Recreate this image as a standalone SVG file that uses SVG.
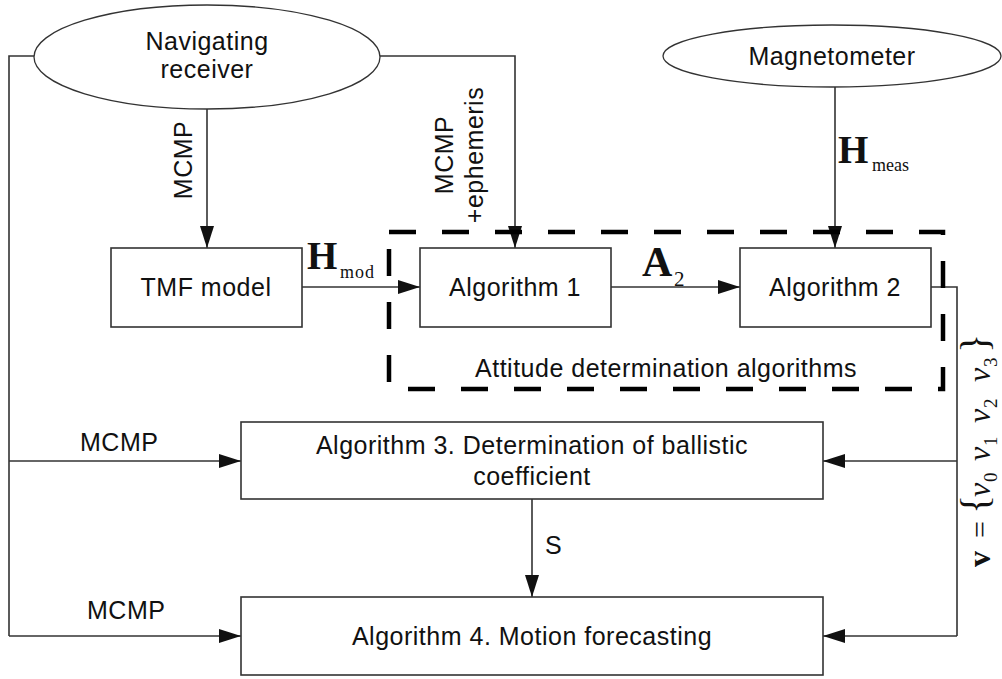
<svg xmlns="http://www.w3.org/2000/svg" width="1002" height="679" viewBox="0 0 1002 679">
  <defs>
    <marker id="arrow" markerUnits="userSpaceOnUse" markerWidth="23" markerHeight="15" refX="22" refY="7" orient="auto">
      <path d="M0,0 L22,7 L0,14 z" fill="#111"/>
    </marker>
    <style>
      .box { fill: #fff; stroke: #333; stroke-width: 1.6; }
      .ell { fill: #fff; stroke: #333; stroke-width: 1.3; }
      .wire { fill: none; stroke: #333; stroke-width: 1.6; }
      .arr { marker-end: url(#arrow); }
      .frame { fill: none; stroke: #000; stroke-width: 4.5; stroke-dasharray: 27 26; }
      .t { font-family: "Liberation Sans", Arial, sans-serif; font-size: 25px; letter-spacing: 0.5px; fill: #111; }
      .c { text-anchor: middle; }
      .sym { font-family: "Liberation Serif", "Times New Roman", serif; fill: #111; }
    </style>
  </defs>

  <rect width="1002" height="679" fill="#fff"/>

  <!-- connectors -->
  <g id="connectors">
    <!-- receiver to the left bus, down to algorithms 3 and 4 -->
    <polyline class="wire" points="34,56 9,56 9,636"/>
    <line class="wire arr" x1="9" y1="461" x2="241" y2="461"/>
    <line class="wire arr" x1="9" y1="636" x2="241" y2="636"/>
    <!-- receiver to algorithm 1 -->
    <polyline class="wire arr" points="380,56 515,56 515,248"/>
    <!-- receiver to TMF model -->
    <line class="wire arr" x1="207" y1="109" x2="207" y2="248"/>
    <!-- TMF model to algorithm 1 -->
    <line class="wire arr" x1="302" y1="287" x2="420" y2="287"/>
    <!-- algorithm 1 to algorithm 2 -->
    <line class="wire arr" x1="611" y1="287" x2="740" y2="287"/>
    <!-- magnetometer to algorithm 2 -->
    <line class="wire arr" x1="835" y1="87" x2="835" y2="248"/>
    <!-- algorithm 2 to the right bus -->
    <polyline class="wire" points="931,287 957,287 957,636"/>
    <line class="wire arr" x1="957" y1="461" x2="823" y2="461"/>
    <line class="wire arr" x1="957" y1="636" x2="823" y2="636"/>
    <!-- algorithm 3 to algorithm 4 -->
    <line class="wire arr" x1="532" y1="499" x2="532" y2="597"/>
  </g>

  <!-- dashed frame around the attitude determination algorithms -->
  <g id="attitude-group">
    <rect class="frame" x="389" y="232" width="554" height="157"/>
    <text class="t c" x="666" y="377">Attitude determination algorithms</text>
  </g>

  <g id="receiver">
    <ellipse class="ell" cx="207" cy="57" rx="173" ry="52"/>
    <text class="t c" x="207" y="50">Navigating</text>
    <text class="t c" x="207" y="78">receiver</text>
  </g>

  <g id="magnetometer">
    <ellipse class="ell" cx="832" cy="56" rx="169" ry="31"/>
    <text class="t c" x="832" y="65">Magnetometer</text>
  </g>

  <g id="tmf-model">
    <rect class="box" x="111" y="248" width="191" height="79"/>
    <text class="t c" x="206" y="296">TMF model</text>
  </g>

  <g id="algorithm-1">
    <rect class="box" x="420" y="248" width="191" height="79"/>
    <text class="t c" x="515" y="296">Algorithm 1</text>
  </g>

  <g id="algorithm-2">
    <rect class="box" x="740" y="248" width="191" height="79"/>
    <text class="t c" x="835" y="296">Algorithm 2</text>
  </g>

  <g id="algorithm-3">
    <rect class="box" x="241" y="422" width="582" height="77"/>
    <text class="t c" x="532" y="454">Algorithm 3. Determination of ballistic</text>
    <text class="t c" x="532" y="485">coefficient</text>
  </g>

  <g id="algorithm-4">
    <rect class="box" x="241" y="597" width="582" height="78"/>
    <text class="t c" x="532" y="645">Algorithm 4. Motion forecasting</text>
  </g>

  <!-- connector labels -->
  <g id="labels">
    <text class="t c" transform="translate(192,160) rotate(-90)">MCMP</text>
    <text class="t c" transform="translate(453,155) rotate(-90)">MCMP</text>
    <text class="t c" transform="translate(483,155) rotate(-90)">+ephemeris</text>
    <text class="t" x="80" y="451">MCMP</text>
    <text class="t" x="87" y="619">MCMP</text>
    <text class="t" x="545" y="554">S</text>

    <text class="sym" x="307" y="269" font-size="39" font-weight="bold">H</text>
    <text class="sym" x="340" y="278" font-size="18" letter-spacing="1">mod</text>

    <text class="sym" x="838" y="163" font-size="39" font-weight="bold">H</text>
    <text class="sym" x="872" y="171" font-size="18">meas</text>

    <text class="sym" x="642" y="276" font-size="42" font-weight="bold">A</text>
    <text class="sym" x="674" y="286" font-size="21">2</text>

    <!-- vector of attitude parameters, written bottom to top -->
    <g transform="translate(990,567) rotate(-90)">
      <text class="sym" x="0" y="0" font-size="32" font-weight="bold">v</text>
      <text class="sym" x="29" y="0" font-size="30">=</text>
      <text class="sym" x="53" y="-2" font-size="40">{</text>
      <text class="sym" x="70" y="0" font-size="32" font-style="italic">ν</text>
      <text class="sym" x="85" y="7" font-size="19">0</text>
      <text class="sym" x="106" y="0" font-size="32" font-style="italic">ν</text>
      <text class="sym" x="121" y="7" font-size="19">1</text>
      <text class="sym" x="144" y="0" font-size="32" font-style="italic">ν</text>
      <text class="sym" x="159" y="7" font-size="19">2</text>
      <text class="sym" x="185" y="0" font-size="32" font-style="italic">ν</text>
      <text class="sym" x="200" y="7" font-size="19">3</text>
      <text class="sym" x="214" y="-2" font-size="40">}</text>
    </g>
  </g>
</svg>
